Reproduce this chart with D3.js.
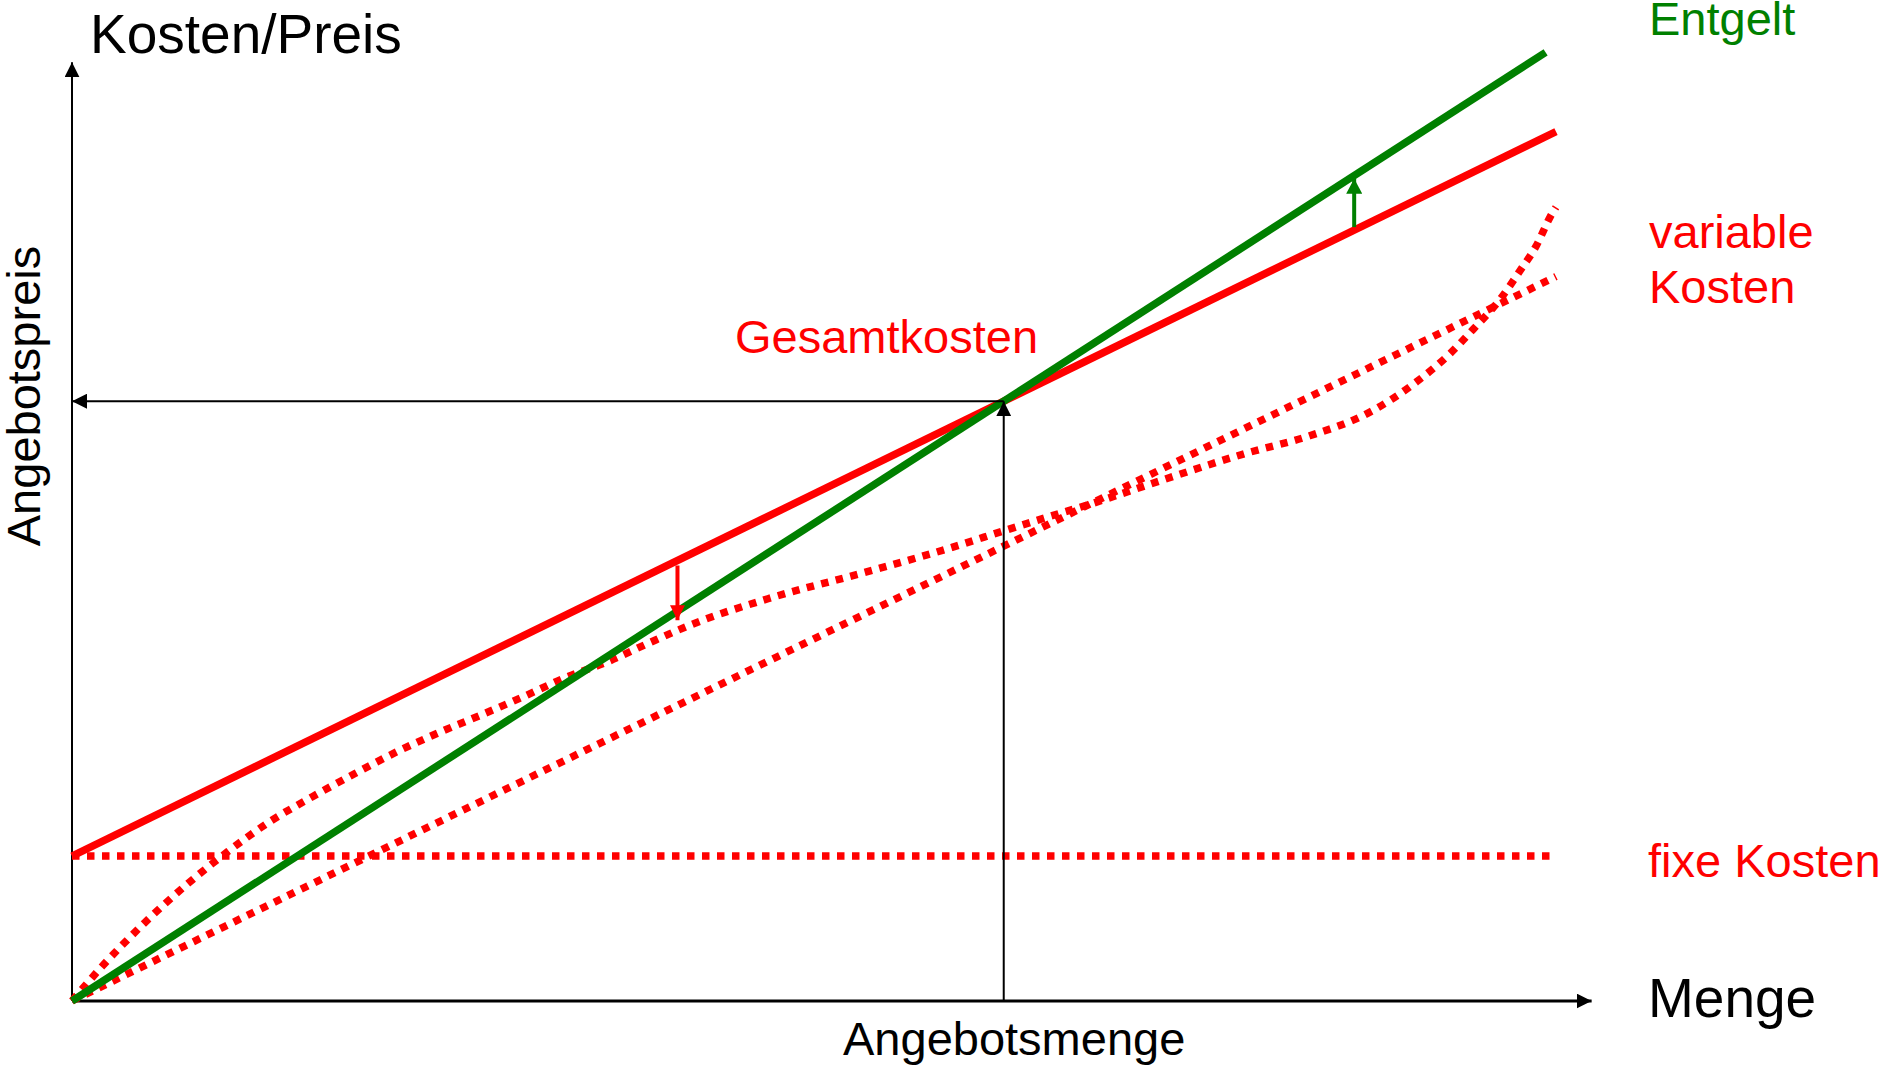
<!DOCTYPE html>
<html>
<head>
<meta charset="utf-8">
<script src="https://cdn.jsdelivr.net/npm/d3@7"></script>
<style>
  body { margin: 0; background: #fff; }
  text { font-family: "Liberation Sans", Arial, sans-serif; }
</style>
</head>
<body>
<script>
const m = { width: 1886, height: 1067 }

// Menge (x) 0..100, Kosten/Preis (y) 0..100
const menge = [0, 100]
const fixeKosten = [16.1, 16.1]
const variableKosten = [0, 80.5]
const gesamtkosten = [16.1, 96.6]
const entgeltMenge = [0, 99.3]
const entgelt = [0, 105.4]

// progressive / degressive variable Kosten (S-Kurve)
const sMenge = [0, 2.0, 4.9, 7.7, 10.5, 13.3, 16.2, 19.1, 21.9, 24.7, 27.6, 30.4, 33.2, 36.1, 38.9, 41.7,
  47.1, 53.6, 59.3, 62.9, 65.8, 68.6, 73.5, 79.2, 83.4, 87.3, 90.6, 92.9, 94.4, 96.2, 97.6, 98.7, 99.6, 100]
const sKosten = [0, 3.8, 8.7, 12.9, 16.6, 19.9, 22.7, 25.3, 27.7, 29.8, 31.8, 33.8, 35.9, 37.7, 39.8, 41.8,
  44.8, 47.7, 50.4, 52.3, 53.8, 55.2, 57.9, 60.9, 62.8, 65.3, 68.8, 72.0, 74.6, 77.9, 81.2, 84.0, 87.1, 88.2]

const axisMax = [102.4, 104.3]     // Pfeilspitzen der Achsen
const arrowMenge = [40.8, 86.4]    // kleine Pfeile zwischen Kosten und Entgelt

const svg = d3.select('body').append('svg')
    .attr('width', m.width)
    .attr('height', m.height)

const x = d3.scaleLinear().domain([0, 100]).range([72, 1556])
const y = d3.scaleLinear().domain([0, 100]).range([1001, 101])

const lin = (xs, ys) => v => ys[0] + (ys[1] - ys[0]) * (v - xs[0]) / (xs[1] - xs[0])
const kostenAt = lin(menge, gesamtkosten)
const entgeltAt = lin(entgeltMenge, entgelt)

// Break-even: Entgelt = Gesamtkosten
const slopeE = (entgelt[1] - entgelt[0]) / (entgeltMenge[1] - entgeltMenge[0])
const slopeK = (gesamtkosten[1] - gesamtkosten[0]) / (menge[1] - menge[0])
const beX = (gesamtkosten[0] - entgelt[0]) / (slopeE - slopeK)
const beY = entgeltAt(beX)

const defs = svg.append('defs')
function marker(id, color, len, wid) {
    defs.append('marker')
        .attr('id', id)
        .attr('viewBox', `${-len} ${-wid / 2} ${len} ${wid}`)
        .attr('refX', 0).attr('refY', 0)
        .attr('markerWidth', len).attr('markerHeight', wid)
        .attr('markerUnits', 'userSpaceOnUse')
        .attr('orient', 'auto')
      .append('path')
        .attr('d', `M0,0L${-len},${-wid / 2}L${-len},${wid / 2}Z`)
        .attr('fill', color)
}
marker('ah-black', '#000', 15, 15)
marker('ah-red', '#ff0000', 15, 15)
marker('ah-green', '#008000', 15, 16)

const g = svg.append('g')

// Achsen
g.append('line')
    .attr('x1', x(0)).attr('y1', y(0))
    .attr('x2', x(0)).attr('y2', y(axisMax[1]))
    .attr('stroke', '#000').attr('stroke-width', 2)
    .attr('marker-end', 'url(#ah-black)')
g.append('line')
    .attr('x1', x(0)).attr('y1', y(0))
    .attr('x2', x(axisMax[0])).attr('y2', y(0))
    .attr('stroke', '#000').attr('stroke-width', 3)
    .attr('marker-end', 'url(#ah-black)')

const line = d3.line().x(d => x(d[0])).y(d => y(d[1]))
const dotted = { stroke: '#ff0000', width: 7.5, dash: '7.5,7.5' }

g.append('path')
    .datum(d3.zip(menge, fixeKosten))
    .attr('d', line)
    .attr('fill', 'none')
    .attr('stroke', dotted.stroke).attr('stroke-width', dotted.width)
    .attr('stroke-dasharray', dotted.dash)

g.append('path')
    .datum(d3.zip(sMenge, sKosten))
    .attr('d', line.curve(d3.curveMonotoneX))
    .attr('fill', 'none')
    .attr('stroke', dotted.stroke).attr('stroke-width', dotted.width)
    .attr('stroke-dasharray', dotted.dash)
line.curve(d3.curveLinear)

g.append('path')
    .datum(d3.zip(menge, variableKosten))
    .attr('d', line)
    .attr('fill', 'none')
    .attr('stroke', dotted.stroke).attr('stroke-width', dotted.width)
    .attr('stroke-dasharray', dotted.dash)

g.append('path')
    .datum(d3.zip(menge, gesamtkosten))
    .attr('d', line)
    .attr('fill', 'none')
    .attr('stroke', '#ff0000').attr('stroke-width', 7.5)

g.append('path')
    .datum(d3.zip(entgeltMenge, entgelt))
    .attr('d', line)
    .attr('fill', 'none')
    .attr('stroke', '#008000').attr('stroke-width', 7.5)

// kleine Pfeile: Verlust (rot, nach unten) und Gewinn (gruen, nach oben)
g.append('line')
    .attr('x1', x(arrowMenge[0])).attr('y1', y(kostenAt(arrowMenge[0])) + 5)
    .attr('x2', x(arrowMenge[0])).attr('y2', y(entgeltAt(arrowMenge[0])) + 9)
    .attr('stroke', '#ff0000').attr('stroke-width', 4)
    .attr('marker-end', 'url(#ah-red)')
g.append('line')
    .attr('x1', x(arrowMenge[1])).attr('y1', y(kostenAt(arrowMenge[1])) - 3)
    .attr('x2', x(arrowMenge[1])).attr('y2', y(entgeltAt(arrowMenge[1])) + 3)
    .attr('stroke', '#008000').attr('stroke-width', 4)
    .attr('marker-end', 'url(#ah-green)')

// Break-even Hilfslinien
g.append('line')
    .attr('x1', x(beX)).attr('y1', y(0))
    .attr('x2', x(beX)).attr('y2', y(beY))
    .attr('stroke', '#000').attr('stroke-width', 2)
    .attr('marker-end', 'url(#ah-black)')
g.append('line')
    .attr('x1', x(beX)).attr('y1', y(beY))
    .attr('x2', x(0)).attr('y2', y(beY))
    .attr('stroke', '#000').attr('stroke-width', 2)
    .attr('marker-end', 'url(#ah-black)')

// Beschriftung
const labels = [
    { t: 'Kosten/Preis', x: 90, y: 53, s: 55, c: '#000' },
    { t: 'Menge', x: 1648, y: 1017, s: 55, c: '#000' },
    { t: 'Entgelt', x: 1649, y: 35, s: 47, c: '#008000' },
    { t: 'variable', x: 1649, y: 248, s: 47, c: '#ff0000' },
    { t: 'Kosten', x: 1649, y: 303, s: 47, c: '#ff0000' },
    { t: 'fixe Kosten', x: 1648, y: 877, s: 47, c: '#ff0000' },
    { t: 'Gesamtkosten', x: 735, y: 353, s: 47, c: '#ff0000' },
    { t: 'Angebotsmenge', x: 843, y: 1055, s: 47, c: '#000' }
]
svg.selectAll('.label')
    .data(labels)
    .enter()
    .append('text')
        .attr('class', 'label')
        .attr('x', d => d.x)
        .attr('y', d => d.y)
        .attr('font-size', d => d.s)
        .attr('fill', d => d.c)
        .text(d => d.t)

svg.append('text')
    .attr('transform', 'translate(40,396) rotate(-90)')
    .attr('text-anchor', 'middle')
    .attr('font-size', 47)
    .attr('fill', '#000')
    .text('Angebotspreis')
</script>
</body>
</html>
